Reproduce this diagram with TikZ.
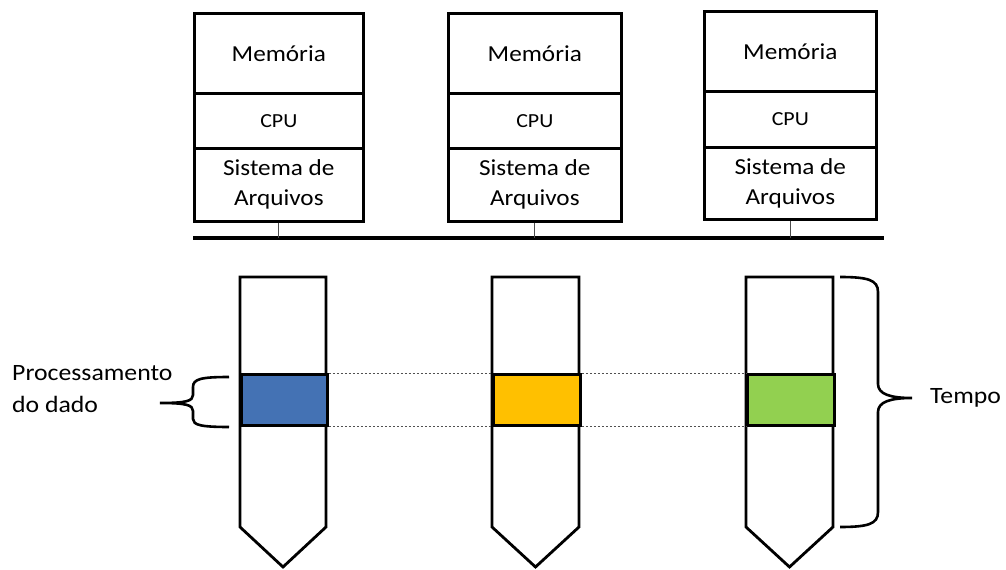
\documentclass[tikz,border=0pt]{standalone}
\usepackage{fontspec}
\setmainfont{Carlito}[FakeStretch=1.1]
\definecolor{cblue}{HTML}{4472B4}
\definecolor{corange}{HTML}{FFC000}
\definecolor{cgreen}{HTML}{92D050}
\definecolor{dashgray}{HTML}{505050}
\begin{document}
\begin{tikzpicture}[x=1bp,y=-1bp,
  sect/.style={draw=black,line width=2.6bp,fill=white,anchor=north west,inner sep=0pt,
    align=center,font=\fontsize{23}{30}\selectfont},
  cpusect/.style={sect,font=\fontsize{20}{24}\selectfont},
  col/.style={draw=black,line width=2.8bp,fill=white,line join=miter},
  band/.style={draw=black,line width=2.8bp,anchor=north west,inner sep=0pt},
  bus/.style={line width=3.5bp},
  tick/.style={line width=0.8bp,draw=black!70},
  guide/.style={draw=dashgray,line width=0.8bp,dash pattern=on 2.5bp off 1.5bp},
  brace/.style={line width=2.6bp},
  lbl/.style={font=\fontsize{23.5}{32}\selectfont,inner sep=0pt,align=left}]
\useasboundingbox (0,0) rectangle (1006,570);
% computer boxes
\node[sect,minimum width=169bp,minimum height=80bp] (m1) at (193,12) {Memória};
\node[cpusect,minimum width=169bp,minimum height=55bp] (c1) at (193,92) {CPU};
\node[sect,minimum width=169bp,minimum height=73bp] (f1) at (193,147) {Sistema de\\Arquivos};
\node[sect,minimum width=173bp,minimum height=80bp] (m2) at (447,12) {Memória};
\node[cpusect,minimum width=173bp,minimum height=55bp] (c2) at (447,92) {CPU};
\node[sect,minimum width=173bp,minimum height=73bp] (f2) at (447,147) {Sistema de\\Arquivos};
\node[sect,minimum width=172bp,minimum height=80bp] (m3) at (703,10) {Memória};
\node[cpusect,minimum width=172bp,minimum height=56bp] (c3) at (703,90) {CPU};
\node[sect,minimum width=172bp,minimum height=72bp] (f3) at (703,146) {Sistema de\\Arquivos};
% bus
\coordinate (busL) at (193,238);
\coordinate (busR) at (884,238);
\draw[bus] (busL) -- (busR);
\draw[tick] (f1.south) -- (f1.south |- busL);
\draw[tick] (f2.south) -- (f2.south |- busL);
\draw[tick] (f3.south) -- (f3.south |- busL);
% columns
\draw[col] (240,277) -- (326,277) -- (326,527) -- (283,567) -- (240,527) -- cycle;
\draw[col] (492,277) -- (579,277) -- (579,527) -- (535.5,567) -- (492,527) -- cycle;
\draw[col] (746,277) -- (833,277) -- (833,527) -- (789.5,567) -- (746,527) -- cycle;
\node[band,fill=cblue,minimum width=86bp,minimum height=51bp] (b1) at (240,373) {};
\node[band,fill=corange,minimum width=87bp,minimum height=51bp] (b2) at (492,373) {};
\node[band,fill=cgreen,minimum width=87bp,minimum height=51bp] (b3) at (746,373) {};
\draw[guide] (b1.north east) -- (b2.north west);
\draw[guide] (b1.south east) -- (b2.south west);
\draw[guide] (b2.north east) -- (b3.north west);
\draw[guide] (b2.south east) -- (b3.south west);
% left brace
\node[lbl,anchor=west] (proc) at (12,389) {Processamento\\do dado};
\coordinate (lt) at (160,403);
\draw[brace] (229,377) .. controls (201,377) and (193,379) .. (193,387) -- (193,395)
  .. controls (193,401) and (186,403) .. (lt)
  .. controls (186,403) and (193,405) .. (193,411) -- (193,419)
  .. controls (193,425) and (201,427) .. (229,427);
% right brace
\node[lbl,anchor=west] (tempo) at (930,398) {Tempo};
\coordinate (rt) at (912,398);
\draw[brace] (840,277) .. controls (868,277) and (878,280) .. (878,292) -- (878,384)
  .. controls (878,394) and (890,398) .. (rt)
  .. controls (890,398) and (878,402) .. (878,412) -- (878,512)
  .. controls (878,524) and (868,527) .. (840,527);
\end{tikzpicture}
\end{document}
